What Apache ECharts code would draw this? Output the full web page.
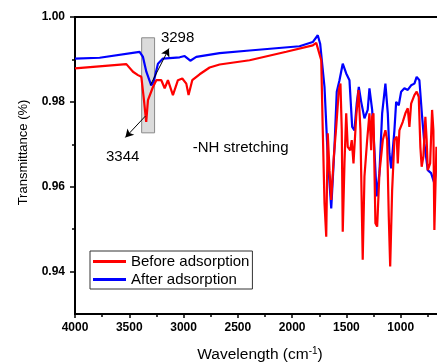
<!DOCTYPE html>
<html>
<head>
<meta charset="utf-8">
<script src="https://cdn.jsdelivr.net/npm/echarts@6/dist/echarts.min.js"></script>
<style>
html,body{margin:0;padding:0;background:#fff;}
#chart{width:437px;height:363px;}
</style>
</head>
<body>
<div id="chart"></div>
<script>
// Wavenumber (cm-1) and transmittance values
var blueX = [4000,3773,3405,3374,3343,3298,3276,3236,3190,3036,2990,2938,2883,2668,2392,1932,1810,1764,1742,1702,1672,1640,1610,1589,1564,1534,1502,1472,1447,1426,1405,1386,1364,1334,1304,1288,1263,1242,1221,1196,1171,1141,1119,1104,1088,1058,1042,1018,996,966,935,904,874,853,828,803,782,751,720,690,671];
var blueY = [0.9902,0.9904,0.9918,0.9906,0.9871,0.9839,0.9847,0.9890,0.9902,0.9905,0.9908,0.9897,0.9906,0.9915,0.9921,0.9931,0.9941,0.9957,0.9937,0.9835,0.9671,0.9549,0.9694,0.9824,0.9851,0.9890,0.9867,0.9851,0.9741,0.9733,0.9797,0.9835,0.9800,0.9761,0.9781,0.9832,0.9781,0.9686,0.9577,0.9632,0.9773,0.9843,0.9773,0.9679,0.9643,0.9733,0.9800,0.9792,0.9824,0.9832,0.9828,0.9839,0.9843,0.9859,0.9851,0.9765,0.9702,0.9639,0.9632,0.9608,0.9647];
var redX = [4000,3527,3466,3420,3389,3368,3344,3328,3282,3251,3205,3174,3144,3098,3052,3012,2975,2954,2920,2852,2760,2668,2392,2054,1810,1778,1732,1718,1702,1686,1672,1656,1640,1616,1594,1570,1555,1543,1534,1518,1502,1488,1465,1451,1435,1410,1389,1371,1350,1334,1309,1288,1272,1263,1251,1233,1217,1196,1165,1141,1125,1110,1097,1079,1058,1037,1027,1012,981,957,935,920,904,874,853,834,819,807,791,773,761,751,729,711,699,690,671];
var redY = [0.9879,0.9889,0.9871,0.9863,0.9859,0.9812,0.9753,0.9804,0.9835,0.9851,0.9851,0.9832,0.9851,0.9816,0.9851,0.9855,0.9843,0.9816,0.9851,0.9865,0.9881,0.9888,0.9898,0.9918,0.9933,0.9939,0.9898,0.9733,0.9561,0.9482,0.9726,0.9639,0.9569,0.9671,0.9741,0.9828,0.9843,0.9733,0.9494,0.9655,0.9773,0.9694,0.9686,0.9710,0.9655,0.9765,0.9828,0.9733,0.9428,0.9624,0.9710,0.9773,0.9686,0.9765,0.9773,0.9514,0.9506,0.9632,0.9710,0.9733,0.9710,0.9529,0.9412,0.9592,0.9710,0.9718,0.9655,0.9733,0.9753,0.9773,0.9785,0.9741,0.9796,0.9816,0.9824,0.9812,0.9694,0.9647,0.9671,0.9765,0.9710,0.9639,0.9655,0.9781,0.9733,0.9498,0.9694];

var seriesNames = ['Before adsorption', 'After adsorption'];
var yTickLabels = [0.94, 0.96, 0.98, 1.00];
var yMinorTicks = [0.95, 0.97, 0.99];

// annotations
var boxX = [3386, 3267];
var boxY = [0.9951, 0.9727];
var peakLabels = ['3298', '3344', '-NH stretching'];
var peakLabelX = [3055, 3561, 2475];
var peakLabelY = [0.9950, 0.9670, 0.9691];
var arrow1 = [[3306, 0.98393], [3135, 0.99256]];
var arrow2 = [[3352, 0.97664], [3536, 0.97162]];

function pairs(xs, ys){ return xs.map(function(x,i){ return [x, ys[i]]; }); }

var FONT = "'Liberation Sans', Arial, sans-serif";
var chart = echarts.init(document.getElementById('chart'), null, {renderer:'canvas'});
var option = {
  animation: false,
  textStyle: {fontFamily: FONT},
  grid: {left: 75, top: 17, right: -18, bottom: 49, show: true, borderColor: '#000', borderWidth: 2,
         containLabel: false, outerBoundsMode: 'none'},
  legend: {
    data: seriesNames, orient: 'vertical', left: 90, top: 251,
    icon: 'rect', itemWidth: 33, itemHeight: 3, itemGap: 3,
    padding: [3, 3, 2, 3], borderColor: '#333', borderWidth: 1, backgroundColor: '#fff',
    textStyle: {fontSize: 15, color: '#000', fontFamily: FONT, padding: [0,0,0,0]}
  },
  xAxis: {
    type: 'value', inverse: true, min: 500, max: 4000, interval: 500,
    name: 'Wavelength (cm{sup|-1})', nameLocation: 'middle', nameGap: 32,
    nameTextStyle: {fontSize: 15.5, color: '#000', fontFamily: FONT, padding: [0, 10, 0, 0],
      rich: {sup: {fontSize: 10, color: '#000', fontFamily: FONT, padding: [0, 0, 8, 0]}}},
    axisLine: {lineStyle: {color: '#000', width: 2}},
    axisTick: {length: 4, lineStyle: {color: '#000', width: 1.5}},
    minorTick: {show: true, splitNumber: 2, length: 3, lineStyle: {color: '#000', width: 1.5}},
    axisLabel: {fontSize: 12, fontWeight: 'bold', color: '#000', margin: 8, fontFamily: FONT,
      formatter: function(v){ return String(v); }},
    splitLine: {show: false}
  },
  yAxis: [{
    type: 'value', min: 0.93, max: 1.00,
    name: 'Transmittance (%)', nameLocation: 'middle', nameGap: 45,
    nameTextStyle: {fontSize: 13, color: '#000', fontFamily: FONT, padding: [0, 0, 0, 26]},
    axisLine: {show: true, lineStyle: {color: '#000', width: 2}},
    axisTick: {show: true, length: 5, customValues: yTickLabels, lineStyle: {color: '#000', width: 1.5}},
    axisLabel: {fontSize: 12, fontWeight: 'bold', color: '#000', margin: 10, fontFamily: FONT,
      customValues: yTickLabels, formatter: function(v){ return v.toFixed(2); }},
    splitLine: {show: false}
  }, {
    type: 'value', min: 0.93, max: 1.00, position: 'left',
    axisLine: {show: false},
    axisTick: {show: true, length: 3, customValues: yMinorTicks, lineStyle: {color: '#000', width: 1.5}},
    axisLabel: {show: false},
    splitLine: {show: false}
  }],
  series: [
    {name: seriesNames[1], type: 'line', data: pairs(blueX, blueY), showSymbol: false,
     lineStyle: {color: '#0000ff', width: 2.2}, itemStyle: {color: '#0000ff'}, z: 2},
    {name: seriesNames[0], type: 'line', data: pairs(redX, redY), showSymbol: false,
     lineStyle: {color: '#ff0000', width: 2.2}, itemStyle: {color: '#ff0000'}, z: 3},
    {name: 'annot', type: 'line', data: [], z: 10, silent: true,
     markArea: {silent: true, itemStyle: {color: 'rgba(184,184,184,0.5)', borderColor: '#8a8a8a', borderWidth: 1},
       data: [[{coord: [boxX[0], boxY[0]]}, {coord: [boxX[1], boxY[1]]}]]},
     markLine: {silent: true, symbol: ['none', 'arrow'], symbolSize: [7, 8],
       lineStyle: {color: '#000', width: 1, type: 'solid'}, label: {show: false},
       data: [[{coord: arrow1[0]}, {coord: arrow1[1]}], [{coord: arrow2[0]}, {coord: arrow2[1]}]]},
     markPoint: {silent: true, symbol: 'rect', symbolSize: 1, itemStyle: {color: 'rgba(0,0,0,0)'},
       label: {show: true, position: 'inside', color: '#000', fontSize: 15, fontFamily: FONT,
         formatter: function(p){ return p.name; }},
       data: peakLabels.map(function(t, i){ return {name: t, coord: [peakLabelX[i], peakLabelY[i]]}; })}
    }
  ]
};
chart.setOption(option);
</script>
</body>
</html>
